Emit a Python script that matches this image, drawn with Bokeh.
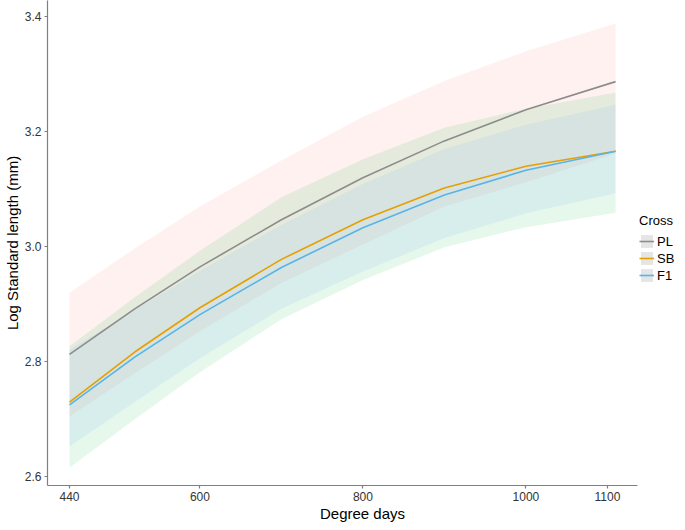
from bokeh.plotting import figure
from bokeh.models import (FixedTicker, PrintfTickFormatter, Range1d, Legend, LegendItem)
from bokeh.embed import file_html
from bokeh.resources import INLINE

# ---- data ----
degree_days = [440, 520, 600, 700, 800, 900, 1000, 1110]

pl_fit   = [2.813, 2.892, 2.965, 3.047, 3.120, 3.184, 3.238, 3.287]
pl_upper = [2.920, 2.997, 3.070, 3.150, 3.226, 3.288, 3.340, 3.388]
pl_lower = [2.705, 2.780, 2.853, 2.937, 3.004, 3.070, 3.112, 3.162]

sb_fit   = [2.730, 2.817, 2.894, 2.978, 3.047, 3.102, 3.140, 3.166]
sb_upper = [2.827, 2.912, 2.993, 3.086, 3.152, 3.207, 3.240, 3.268]
sb_lower = [2.616, 2.700, 2.782, 2.874, 2.942, 2.999, 3.034, 3.059]

f1_fit   = [2.725, 2.808, 2.882, 2.964, 3.033, 3.090, 3.133, 3.166]
f1_upper = [2.821, 2.890, 2.958, 3.038, 3.109, 3.170, 3.212, 3.247]
f1_lower = [2.653, 2.730, 2.806, 2.892, 2.957, 3.015, 3.058, 3.093]

crosses = ["PL", "SB", "F1"]
x_ticks = [440, 600, 800, 1000, 1100]
y_ticks = [2.6, 2.8, 3.0, 3.2, 3.4]

line_colors = {"PL": "#8C8C8C", "SB": "#E69F00", "F1": "#56B4E9"}
fill_colors = {"PL": "#F8766D", "SB": "#00BA38", "F1": "#619CFF"}

series = {
    "PL": (pl_fit, pl_lower, pl_upper),
    "SB": (sb_fit, sb_lower, sb_upper),
    "F1": (f1_fit, f1_lower, f1_upper),
}

FONT = "Liberation Sans"
FW, FH = 630, 485
X0, X1 = 413, 1136.9          # visible axis span
XSCALE = 590 / (X1 - X0)      # px per unit of the axis span

p = figure(frame_width=FW, frame_height=FH, output_backend="svg", toolbar_location=None,
           x_range=Range1d(X0, X0 + FW / XSCALE), y_range=Range1d(2.585, 3.428),
           min_border_left=0, min_border_right=0, min_border_top=0, min_border_bottom=0)
p.outline_line_color = None
p.xgrid.visible = False
p.ygrid.visible = False
p.background_fill_color = "white"
p.border_fill_color = "white"

# ribbons
for c in crosses:
    fit, lo, up = series[c]
    p.varea(x=degree_days, y1=lo, y2=up, fill_color=fill_colors[c], fill_alpha=0.1)

# lines
line_renderers = {}
for c in crosses:
    fit, lo, up = series[c]
    line_renderers[c] = p.line(x=degree_days, y=fit, line_color=line_colors[c], line_width=1.6)

# legend with grey key background (key swatch renderers kept off-range)
items = []
for c in crosses:
    bg = p.varea(x=[5000, 5001], y1=[9, 9], y2=[9.1, 9.1], fill_color="#E5E5E5", fill_alpha=1.0)
    items.append(LegendItem(label=c, renderers=[bg, line_renderers[c]]))

legend = Legend(items=items, title="Cross", location=(592, 202))
legend.title_text_font = FONT
legend.title_text_font_size = "13px"
legend.title_text_font_style = "normal"
legend.title_text_color = "black"
legend.title_standoff = 5
legend.label_text_font = FONT
legend.label_text_font_size = "13px"
legend.label_text_color = "black"
legend.label_standoff = 3
legend.glyph_width = 15
legend.glyph_height = 16
legend.label_height = 16
legend.spacing = 1
legend.padding = 0
legend.margin = 0
legend.border_line_color = None
legend.background_fill_alpha = 0
p.add_layout(legend, "center")

# axes
for ax in (p.xaxis[0], p.yaxis[0]):
    ax.axis_line_color = "#7F7F7F"
    ax.axis_line_width = 1.2
    ax.major_tick_line_color = "#7F7F7F"
    ax.major_tick_line_width = 1.2
    ax.major_tick_out = 3
    ax.major_tick_in = 0
    ax.minor_tick_line_color = None
    ax.major_label_text_font = FONT
    ax.major_label_text_font_size = "12px"
    ax.major_label_text_color = "#333333"
    ax.major_label_standoff = 3
    ax.axis_label_text_font = FONT
    ax.axis_label_text_font_size = "15px"
    ax.axis_label_text_font_style = "normal"
    ax.axis_label_text_color = "black"
    ax.axis_label_standoff = 1

p.xaxis.bounds = (X0, X1)
p.xaxis.ticker = FixedTicker(ticks=x_ticks)
p.yaxis.ticker = FixedTicker(ticks=y_ticks)
p.yaxis.formatter = PrintfTickFormatter(format="%.1f")
p.xaxis.axis_label = "Degree days"
p.yaxis.axis_label = "Log Standard length (mm)"

open("out.html", "w").write(file_html(p, INLINE))
